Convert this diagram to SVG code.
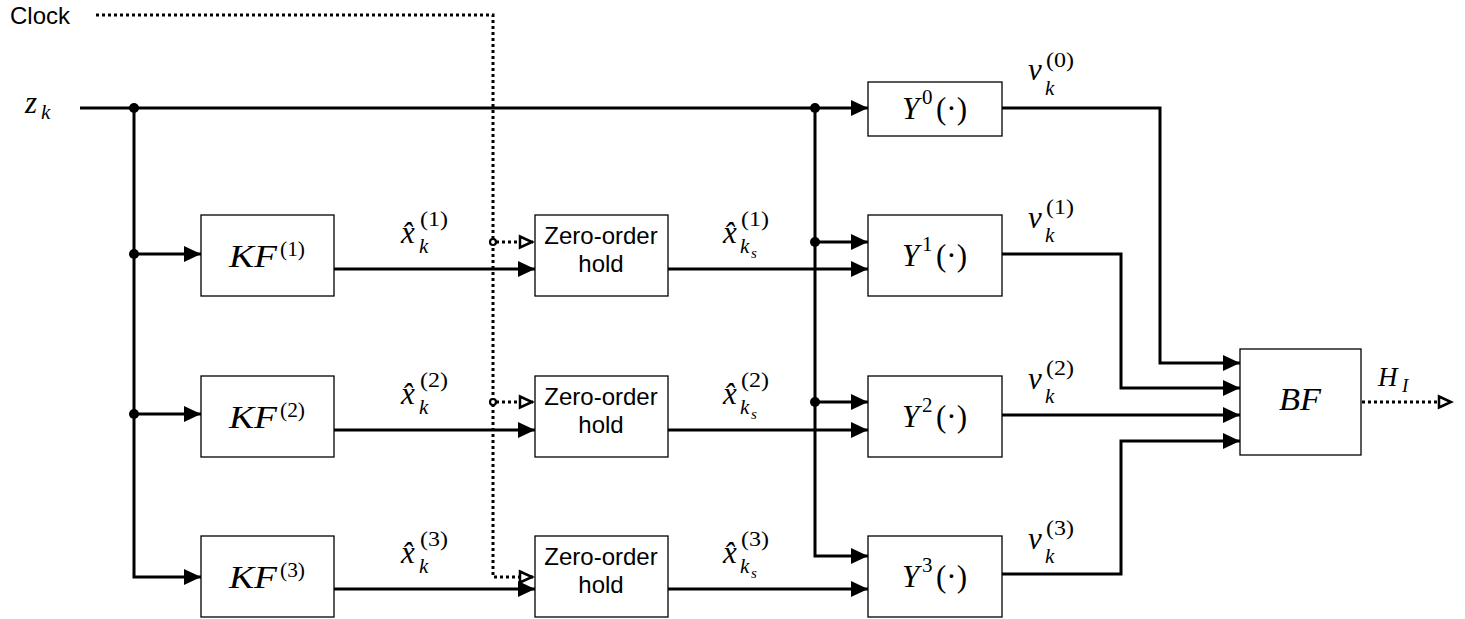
<svg xmlns="http://www.w3.org/2000/svg" width="1465" height="619" viewBox="0 0 1465 619">
  <style>
    .box { fill: #fff; stroke: #000; stroke-width: 1.3; }
    .wire { fill: none; stroke: #000; stroke-width: 3; }
    .clk { fill: none; stroke: #000; stroke-width: 3; stroke-dasharray: 3 3; }
    .dot { fill: #000; }
    .tap { fill: #fff; stroke: #000; stroke-width: 2.2; }
    .sans { font-family: "Liberation Sans", Arial, sans-serif; font-size: 24px; fill: #000; }
    .m { font-family: "Liberation Serif", "Times New Roman", serif; fill: #000; }
    .it { font-style: italic; }
    .big { font-size: 31px; }
    .sup { font-size: 21px; }
    .sub { font-size: 21px; }
    .ss { font-size: 15px; }
  </style>
  <defs>
    <marker id="arrow" viewBox="0 0 17 16" refX="17" refY="8" markerWidth="17" markerHeight="16" markerUnits="userSpaceOnUse" orient="auto">
      <path d="M0,0 L17,8 L0,16 z" fill="#000"/>
    </marker>
    <marker id="open" viewBox="0 0 18 16" refX="16" refY="8" markerWidth="18" markerHeight="16" markerUnits="userSpaceOnUse" orient="auto">
      <path d="M3,2.5 L15,8 L3,13.5 z" fill="#fff" stroke="#000" stroke-width="2.5"/>
    </marker>
  </defs>

  <!-- input labels -->
  <text class="sans" x="10" y="24">Clock</text>
  <g id="input-z">
    <text class="m it big" x="25" y="113">z</text>
    <text class="m it sub" x="41" y="119">k</text>
  </g>

  <!-- connectors -->
  <g id="connectors">
    <!-- clock distribution -->
    <path class="clk" d="M96,15 H493 V577 H533" marker-end="url(#open)"/>
    <path class="clk" d="M496,242 H533" marker-end="url(#open)"/>
    <path class="clk" d="M496,402 H533" marker-end="url(#open)"/>
    <circle class="tap" cx="493" cy="242" r="3"/>
    <circle class="tap" cx="493" cy="402" r="3"/>

    <!-- measurement bus -->
    <path class="wire" d="M80,108 H868" marker-end="url(#arrow)"/>
    <path class="wire" d="M134,108 V577 H201" marker-end="url(#arrow)"/>
    <path class="wire" d="M134,254 H201" marker-end="url(#arrow)"/>
    <path class="wire" d="M134,414 H201" marker-end="url(#arrow)"/>
    <circle class="dot" cx="134" cy="108" r="5"/>
    <circle class="dot" cx="134" cy="254" r="5"/>
    <circle class="dot" cx="134" cy="414" r="5"/>

    <!-- filter outputs into holds -->
    <path class="wire" d="M334,269 H535" marker-end="url(#arrow)"/>
    <path class="wire" d="M334,430 H535" marker-end="url(#arrow)"/>
    <path class="wire" d="M334,589 H535" marker-end="url(#arrow)"/>

    <!-- held estimates into residual blocks -->
    <path class="wire" d="M668,269 H868" marker-end="url(#arrow)"/>
    <path class="wire" d="M668,430 H868" marker-end="url(#arrow)"/>
    <path class="wire" d="M668,589 H868" marker-end="url(#arrow)"/>

    <!-- measurement tap to residual blocks -->
    <path class="wire" d="M815,108 V556 H868" marker-end="url(#arrow)"/>
    <path class="wire" d="M815,242 H868" marker-end="url(#arrow)"/>
    <path class="wire" d="M815,402 H868" marker-end="url(#arrow)"/>
    <circle class="dot" cx="815" cy="108" r="5"/>
    <circle class="dot" cx="815" cy="242" r="5"/>
    <circle class="dot" cx="815" cy="402" r="5"/>

    <!-- residuals into BF -->
    <path class="wire" d="M1002,108 H1160 V363 H1240" marker-end="url(#arrow)"/>
    <path class="wire" d="M1002,254 H1121 V388 H1240" marker-end="url(#arrow)"/>
    <path class="wire" d="M1002,415 H1240" marker-end="url(#arrow)"/>
    <path class="wire" d="M1002,574 H1121 V441 H1240" marker-end="url(#arrow)"/>

    <!-- BF output -->
    <path class="clk" d="M1362,402 H1452" marker-end="url(#open)"/>
  </g>

  <!-- Kalman filters -->
  <g id="kf1">
    <rect class="box" x="201" y="215" width="133" height="81"/>
    <text class="m it big" x="229" y="267" textLength="48" lengthAdjust="spacingAndGlyphs">KF</text>
    <text class="m sup" x="280" y="256" textLength="25" lengthAdjust="spacingAndGlyphs">(1)</text>
  </g>
  <g id="kf2">
    <rect class="box" x="201" y="376" width="133" height="81"/>
    <text class="m it big" x="229" y="428" textLength="48" lengthAdjust="spacingAndGlyphs">KF</text>
    <text class="m sup" x="280" y="417" textLength="25" lengthAdjust="spacingAndGlyphs">(2)</text>
  </g>
  <g id="kf3">
    <rect class="box" x="201" y="536" width="133" height="81"/>
    <text class="m it big" x="229" y="588" textLength="48" lengthAdjust="spacingAndGlyphs">KF</text>
    <text class="m sup" x="280" y="577" textLength="25" lengthAdjust="spacingAndGlyphs">(3)</text>
  </g>

  <!-- zero-order holds -->
  <g id="zoh1">
    <rect class="box" x="535" y="215" width="133" height="81"/>
    <text class="sans" x="601" y="244" text-anchor="middle">Zero-order</text>
    <text class="sans" x="601" y="272" text-anchor="middle">hold</text>
  </g>
  <g id="zoh2">
    <rect class="box" x="535" y="376" width="133" height="81"/>
    <text class="sans" x="601" y="405" text-anchor="middle">Zero-order</text>
    <text class="sans" x="601" y="433" text-anchor="middle">hold</text>
  </g>
  <g id="zoh3">
    <rect class="box" x="535" y="536" width="133" height="81"/>
    <text class="sans" x="601" y="565" text-anchor="middle">Zero-order</text>
    <text class="sans" x="601" y="593" text-anchor="middle">hold</text>
  </g>

  <!-- residual generators -->
  <g id="y0">
    <rect class="box" x="868" y="82" width="134" height="54"/>
    <text class="m it big" x="902" y="119">Y</text>
    <text class="m sup" x="922" y="104">0</text>
    <text class="m big" x="936" y="119" textLength="31" lengthAdjust="spacing">(·)</text>
  </g>
  <g id="y1">
    <rect class="box" x="868" y="215" width="134" height="81"/>
    <text class="m it big" x="902" y="266">Y</text>
    <text class="m sup" x="922" y="251">1</text>
    <text class="m big" x="936" y="266" textLength="31" lengthAdjust="spacing">(·)</text>
  </g>
  <g id="y2">
    <rect class="box" x="868" y="376" width="134" height="81"/>
    <text class="m it big" x="902" y="427">Y</text>
    <text class="m sup" x="922" y="412">2</text>
    <text class="m big" x="936" y="427" textLength="31" lengthAdjust="spacing">(·)</text>
  </g>
  <g id="y3">
    <rect class="box" x="868" y="536" width="134" height="81"/>
    <text class="m it big" x="902" y="587">Y</text>
    <text class="m sup" x="922" y="572">3</text>
    <text class="m big" x="936" y="587" textLength="31" lengthAdjust="spacing">(·)</text>
  </g>

  <!-- decision block -->
  <g id="bf">
    <rect class="box" x="1240" y="349" width="121" height="106"/>
    <text class="m it big" x="1279" y="410" textLength="42" lengthAdjust="spacingAndGlyphs">BF</text>
  </g>

  <!-- signal labels -->
  <g id="labels">
    <!-- filter estimates -->
    <g>
      <text class="m it big" x="401" y="243">x̂</text>
      <text class="m it sub" x="419" y="253">k</text>
      <text class="m sup" x="420" y="226" textLength="28" lengthAdjust="spacingAndGlyphs">(1)</text>
    </g>
    <g>
      <text class="m it big" x="401" y="404">x̂</text>
      <text class="m it sub" x="419" y="414">k</text>
      <text class="m sup" x="420" y="387" textLength="28" lengthAdjust="spacingAndGlyphs">(2)</text>
    </g>
    <g>
      <text class="m it big" x="401" y="563">x̂</text>
      <text class="m it sub" x="419" y="573">k</text>
      <text class="m sup" x="420" y="546" textLength="28" lengthAdjust="spacingAndGlyphs">(3)</text>
    </g>
    <!-- held estimates -->
    <g>
      <text class="m it big" x="723" y="243">x̂</text>
      <text class="m it sub" x="740" y="253">k</text>
      <text class="m it ss" x="751" y="258">s</text>
      <text class="m sup" x="741" y="226" textLength="28" lengthAdjust="spacingAndGlyphs">(1)</text>
    </g>
    <g>
      <text class="m it big" x="723" y="404">x̂</text>
      <text class="m it sub" x="740" y="414">k</text>
      <text class="m it ss" x="751" y="419">s</text>
      <text class="m sup" x="741" y="387" textLength="28" lengthAdjust="spacingAndGlyphs">(2)</text>
    </g>
    <g>
      <text class="m it big" x="723" y="563">x̂</text>
      <text class="m it sub" x="740" y="573">k</text>
      <text class="m it ss" x="751" y="578">s</text>
      <text class="m sup" x="741" y="546" textLength="28" lengthAdjust="spacingAndGlyphs">(3)</text>
    </g>
    <!-- residuals -->
    <g>
      <text class="m it big" x="1028" y="80">ν</text>
      <text class="m it sub" x="1045" y="95">k</text>
      <text class="m sup" x="1046" y="67" textLength="28" lengthAdjust="spacingAndGlyphs">(0)</text>
    </g>
    <g>
      <text class="m it big" x="1028" y="228">ν</text>
      <text class="m it sub" x="1045" y="242">k</text>
      <text class="m sup" x="1046" y="214" textLength="28" lengthAdjust="spacingAndGlyphs">(1)</text>
    </g>
    <g>
      <text class="m it big" x="1028" y="389">ν</text>
      <text class="m it sub" x="1045" y="403">k</text>
      <text class="m sup" x="1046" y="375" textLength="28" lengthAdjust="spacingAndGlyphs">(2)</text>
    </g>
    <g>
      <text class="m it big" x="1028" y="549">ν</text>
      <text class="m it sub" x="1045" y="563">k</text>
      <text class="m sup" x="1046" y="535" textLength="28" lengthAdjust="spacingAndGlyphs">(3)</text>
    </g>
    <!-- decision output -->
    <g>
      <text class="m it" x="1378" y="386" font-size="27">H</text>
      <text class="m it" x="1402" y="392" font-size="19">I</text>
    </g>
  </g>
</svg>
